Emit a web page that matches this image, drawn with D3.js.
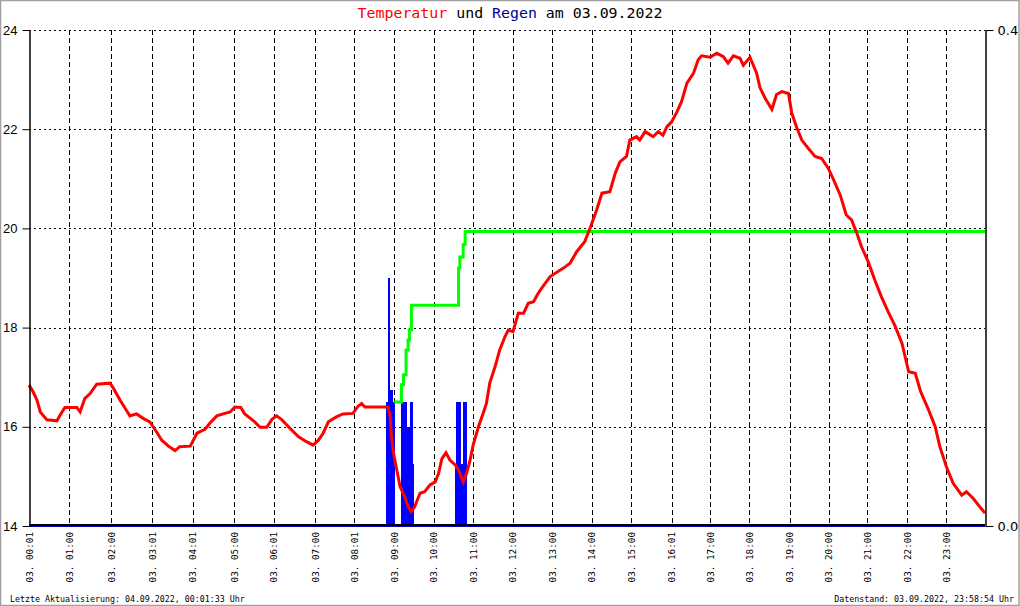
<!DOCTYPE html>
<html>
<head>
<meta charset="utf-8">
<script src="https://cdn.jsdelivr.net/npm/d3@7"></script>
<style>
  body { margin: 0; background: #fff; }
  svg { display: block; }
</style>
</head>
<body>
<div id="chart"></div>
<script>
// x position is the record number of the day (about one per minute)
var tickIdx = [0, 61, 124, 186, 247, 309, 369, 431, 490, 550, 610, 669, 729, 788, 848, 907, 968, 1026, 1085, 1146, 1205, 1263, 1323, 1382];
var tickLabels = ['03. 00:01', '03. 01:00', '03. 02:00', '03. 03:01', '03. 04:01', '03. 05:00', '03. 06:01', '03. 07:00',
  '03. 08:01', '03. 09:00', '03. 10:00', '03. 11:00', '03. 12:00', '03. 13:00', '03. 14:00', '03. 15:00',
  '03. 16:01', '03. 17:00', '03. 18:00', '03. 19:00', '03. 20:00', '03. 21:00', '03. 22:00', '03. 23:00'];

var tempTicks = [14, 16, 18, 20, 22, 24];
var rainTicks = [0.0, 0.4];

// temperature [record, degC]
var temperature = [
  [0, 16.84], [6, 16.71], [12, 16.54], [17, 16.30], [27, 16.14], [42, 16.12], [47, 16.24], [54, 16.39],
  [72, 16.39], [77, 16.30], [84, 16.57], [92, 16.67], [102, 16.86], [122, 16.88], [127, 16.78], [137, 16.54],
  [145, 16.37], [152, 16.22], [162, 16.26], [172, 16.17], [182, 16.10], [192, 15.90], [200, 15.73], [210, 15.61],
  [220, 15.52], [227, 15.60], [243, 15.61], [253, 15.87], [265, 15.95], [273, 16.08], [283, 16.22], [295, 16.27],
  [303, 16.30], [310, 16.40], [319, 16.39], [325, 16.26], [340, 16.10], [348, 15.99], [358, 15.99], [366, 16.15],
  [373, 16.22], [381, 16.14], [393, 15.97], [406, 15.80], [418, 15.70], [428, 15.63], [436, 15.73], [443, 15.87],
  [451, 16.10], [463, 16.20], [473, 16.26], [488, 16.27], [496, 16.42], [501, 16.47], [506, 16.40], [541, 16.40],
  [544, 16.20], [546, 15.80], [549, 15.47], [554, 15.13], [559, 14.79], [566, 14.59], [571, 14.39], [576, 14.29],
  [581, 14.39], [589, 14.66], [596, 14.69], [604, 14.83], [612, 14.89], [617, 15.06], [622, 15.36], [628, 15.48],
  [634, 15.33], [642, 15.23], [647, 15.13], [654, 14.89], [659, 15.06], [664, 15.30], [669, 15.63], [677, 16.00],
  [684, 16.27], [689, 16.47], [694, 16.88], [702, 17.21], [709, 17.55], [717, 17.82], [722, 17.95], [729, 17.92],
  [737, 18.29], [745, 18.29], [752, 18.49], [760, 18.52], [767, 18.69], [772, 18.79], [785, 19.03], [805, 19.20],
  [815, 19.30], [825, 19.53], [837, 19.73], [845, 20.00], [855, 20.37], [863, 20.71], [875, 20.74], [883, 21.11],
  [890, 21.34], [900, 21.45], [905, 21.78], [915, 21.85], [920, 21.78], [928, 21.95], [940, 21.85], [948, 21.95],
  [955, 21.88], [961, 22.05], [968, 22.15], [976, 22.35], [983, 22.56], [991, 22.93], [1001, 23.13], [1008, 23.40],
  [1013, 23.48], [1026, 23.45], [1036, 23.53], [1046, 23.46], [1053, 23.33], [1061, 23.48], [1071, 23.43], [1076, 23.29],
  [1086, 23.45], [1091, 23.29], [1096, 23.13], [1101, 22.84], [1109, 22.62], [1119, 22.40], [1126, 22.70], [1134, 22.76],
  [1144, 22.72], [1149, 22.32], [1156, 22.05], [1164, 21.78], [1174, 21.61], [1184, 21.45], [1194, 21.41], [1204, 21.21],
  [1212, 20.98], [1222, 20.67], [1231, 20.27], [1239, 20.17], [1247, 19.90], [1254, 19.63], [1264, 19.33], [1274, 18.96],
  [1284, 18.62], [1294, 18.32], [1304, 18.05], [1315, 17.68], [1325, 17.11], [1335, 17.08], [1343, 16.71], [1355, 16.34],
  [1365, 16.00], [1372, 15.60], [1382, 15.19], [1392, 14.86], [1405, 14.62], [1412, 14.69], [1422, 14.56], [1432, 14.39],
  [1440, 14.26]
];

// rain per record, runs of equal value [from, to, mm]
var rain = [
  [538, 540, 0.10], [540, 544, 0.20], [544, 548, 0.11], [548, 551, 0.10],
  [560, 561, 0.05], [561, 569, 0.10], [569, 574, 0.08], [574, 578, 0.10], [578, 580, 0.05],
  [642, 643, 0.05], [643, 651, 0.10], [651, 654, 0.05], [654, 659, 0.10], [659, 660, 0.05]
];

// cumulative rain line (right scale)
var rainSum = [
  [550, 0.100], [561, 0.114], [564, 0.122], [568, 0.142], [571, 0.150], [573, 0.158], [576, 0.178],
  [644, 0.178], [647, 0.208], [649, 0.217], [654, 0.227], [657, 0.2375], [1440, 0.2375]
];

var W = 1020, H = 606;
var mono = 'DejaVu Sans Mono, monospace';

var svg = d3.select('#chart').append('svg')
  .attr('width', W)
  .attr('height', H);

// frame
svg.append('rect')
  .attr('x', 0.5).attr('y', 0.5)
  .attr('width', W - 1.5).attr('height', H - 1)
  .style('fill', '#fff')
  .style('stroke', '#a0a0a0')
  .style('stroke-width', 1.5);

var x = d3.scaleLinear().domain([0, 1440]).range([29, 985]);
var yT = d3.scaleLinear().domain([14, 24]).range([526, 30]);
var yR = d3.scaleLinear().domain([0, 0.4]).range([526, 30]);

// grid
svg.append('g').selectAll('line')
  .data(tempTicks.slice(1))
  .enter().append('line')
  .attr('x1', x(0)).attr('x2', x(1440))
  .attr('y1', d => Math.round(yT(d)) + 0.5)
  .attr('y2', d => Math.round(yT(d)) + 0.5)
  .style('stroke', '#000')
  .style('stroke-dasharray', '2,3');

svg.append('g').selectAll('line')
  .data(tickIdx.slice(1))
  .enter().append('line')
  .attr('x1', d => Math.round(x(d)) + 0.5)
  .attr('x2', d => Math.round(x(d)) + 0.5)
  .attr('y1', yT(24)).attr('y2', yT(14))
  .style('stroke', '#000')
  .style('stroke-dasharray', '5,3');

// rain bars
svg.append('g').selectAll('rect')
  .data(rain)
  .enter().append('rect')
  .attr('x', d => x(d[0]))
  .attr('width', d => x(d[1]) - x(d[0]))
  .attr('y', d => yR(d[2]))
  .attr('height', d => yR(0) - yR(d[2]))
  .style('fill', '#0000ff')
  .attr('shape-rendering', 'crispEdges');

// cumulative rain
svg.append('path')
  .datum(rainSum)
  .attr('d', d3.line().x(d => x(d[0])).y(d => yR(d[1])).curve(d3.curveStepAfter))
  .style('fill', 'none')
  .style('stroke', '#00ff00')
  .style('stroke-width', 3);

// temperature
svg.append('path')
  .datum(temperature)
  .attr('d', d3.line().x(d => x(d[0])).y(d => yT(d[1])))
  .style('fill', 'none')
  .style('stroke', '#ff0000')
  .style('stroke-width', 3)
  .style('stroke-linejoin', 'miter');

// bottom line
svg.append('line')
  .attr('x1', x(0)).attr('x2', x(1440))
  .attr('y1', 526.5).attr('y2', 526.5)
  .style('stroke', '#0000c0').style('stroke-width', 1);
svg.append('line')
  .attr('x1', x(0)).attr('x2', x(1440))
  .attr('y1', 525).attr('y2', 525)
  .style('stroke', '#000').style('stroke-width', 2);

// left axis
var axisL = d3.axisLeft(yT).tickValues(tempTicks).tickSize(7).tickSizeOuter(0).tickPadding(5);
var gL = svg.append('g')
  .attr('transform', 'translate(29.5,0)')
  .call(axisL);
gL.selectAll('text')
  .style('font-family', 'Liberation Sans, Arial, sans-serif')
  .style('font-size', '13px')
  .attr('fill', '#000');
gL.select('.domain').style('stroke', '#000').style('stroke-width', 1.5);

// right axis
var axisR = d3.axisRight(yR).tickValues(rainTicks).tickFormat(d3.format('.1f')).tickSize(8).tickSizeOuter(0).tickPadding(4);
var gR = svg.append('g')
  .attr('transform', 'translate(985.5,0)')
  .call(axisR);
gR.selectAll('text')
  .style('font-family', 'DejaVu Sans, sans-serif')
  .style('font-size', '13px')
  .attr('fill', '#000');
gR.select('.domain').style('stroke', '#000').style('stroke-width', 1.5);

// x labels
svg.append('g').selectAll('text')
  .data(tickIdx)
  .enter().append('text')
  .attr('transform', d => 'translate(' + (x(d) + 3.5) + ',532) rotate(-90)')
  .attr('text-anchor', 'end')
  .style('font-family', mono)
  .style('font-size', '9.3px')
  .text((d, i) => tickLabels[i]);

// title
var title = svg.append('text')
  .attr('x', 510).attr('y', 18)
  .attr('text-anchor', 'middle')
  .style('font-family', mono)
  .style('font-size', '14.9px');
title.append('tspan').attr('fill', '#ff0000').text('Temperatur');
title.append('tspan').attr('fill', '#000').text(' und ');
title.append('tspan').attr('fill', '#00009c').text('Regen');
title.append('tspan').attr('fill', '#000').text(' am 03.09.2022');

// footer
svg.append('text')
  .attr('x', 10).attr('y', 602)
  .style('font-family', mono)
  .style('font-size', '8.3px')
  .text('Letzte Aktualisierung: 04.09.2022, 00:01:33 Uhr');
svg.append('text')
  .attr('x', 1014).attr('y', 602)
  .attr('text-anchor', 'end')
  .style('font-family', mono)
  .style('font-size', '8.3px')
  .text('Datenstand: 03.09.2022, 23:58:54 Uhr');
</script>
</body>
</html>
